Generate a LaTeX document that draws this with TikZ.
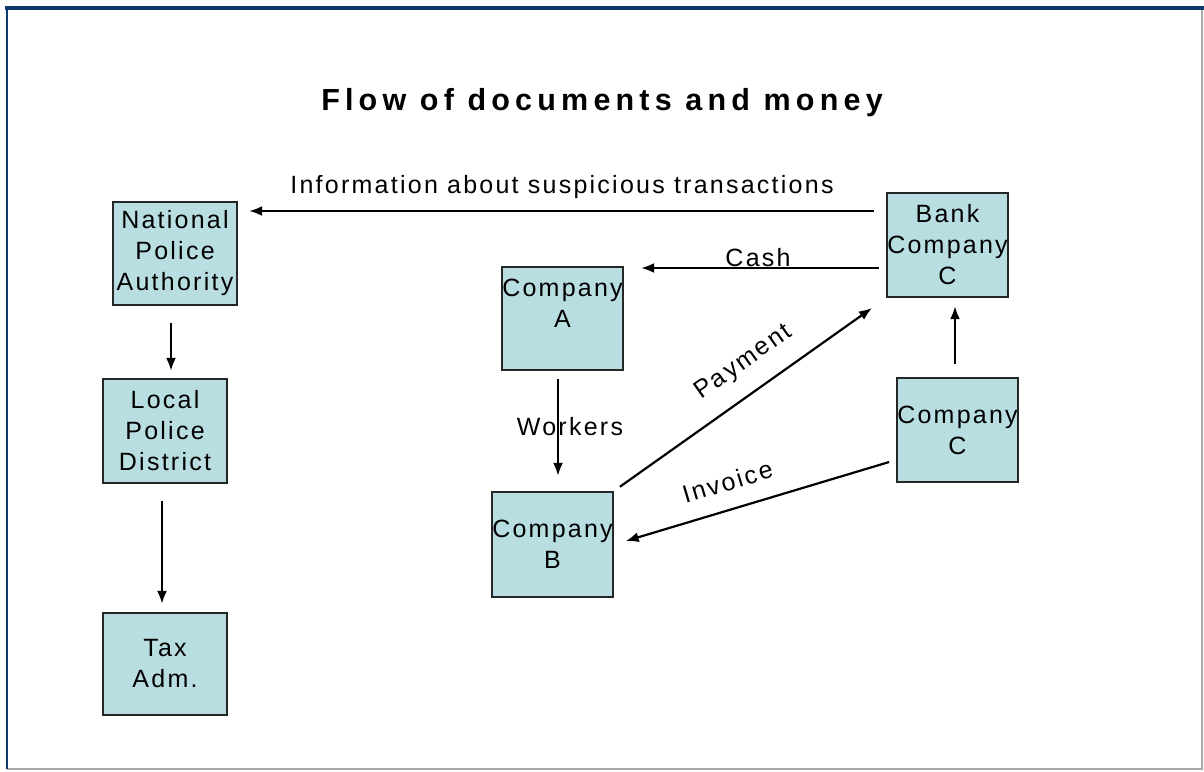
\documentclass[tikz,border=0pt]{standalone}
\usepackage{fontspec}
\setmainfont{Liberation Sans}[LetterSpace=9]
\newfontfamily\titlefont{Liberation Sans}[LetterSpace=17]
\usetikzlibrary{arrows.meta}
\definecolor{boxfill}{RGB}{185,222,226}
\definecolor{frameblue}{RGB}{12,58,108}
\definecolor{framegrey}{RGB}{170,170,170}
\begin{document}
\begin{tikzpicture}[x=1pt,y=-1pt,
  box/.style={draw=black!85,line width=2.4pt,fill=boxfill,minimum width=121pt,minimum height=104pt,
    inner sep=0pt,align=center,font=\fontsize{25}{31}\selectfont},
  flow/.style={-{Latex[length=13pt,width=10pt]},line width=2.2pt},
  lbl/.style={font=\fontsize{25}{30}\selectfont}]
\useasboundingbox (0,0) rectangle (1204,771);
\draw[framegrey,line width=1.2pt] (1202,8) -- (1202,769) -- (7,769);
\draw[frameblue,line width=1.8pt] (7,769) -- (7,8);
\draw[frameblue,line width=3.5pt] (5,8) -- (1204,8);
\path node (title) at (602,103) {\titlefont\bfseries\fontsize{30.5}{34}\selectfont Flow of documents and money}
node[box,minimum width=124pt,minimum height=103pt] (npa) at (175,253.5) {National\\Police\\Authority}
node[box,minimum width=124pt] (lpd) at (165,431) {Local\\Police\\District}
node[box,minimum width=124pt,minimum height=102pt] (tax) at (165,664) {Tax\\Adm.}
node[box,minimum height=103pt] (ca) at (562.5,318.5) {Company\\A\\\mbox{}}
node[box] (bank) at (947.5,245) {Bank\\Company\\C}
node[box,minimum height=105pt] (cb) at (552.5,544.5) {Company\\B}
node[box] (cc) at (957.5,430) {Company\\C}
;
\draw[flow,shorten <=12pt,shorten >=11pt] ([yshift=34pt]bank.west) -- ([yshift=34pt]bank.west -| npa.east)
  node[lbl,midway,above=8pt] (info) {Information about suspicious transactions};
\draw[flow,shorten <=7pt,shorten >=17pt] ([yshift=-23pt]bank.west) -- ([yshift=-23pt]bank.west -| ca.east)
  node[lbl,midway,above,inner sep=0pt,xshift=3pt] (cash) {Cash};
\draw[flow,shorten <=8pt,shorten >=15pt] ([xshift=-4.5pt]ca.south) -- ([xshift=-4.5pt]ca.south |- cb.north)
  node[lbl,midway,xshift=12pt,yshift=4pt] (workers) {Workers};
\draw[flow,shorten <=7pt,shorten >=17pt] (cb.north east) -- (bank.south west)
  node[lbl,pos=0.54,sloped,above=14pt] (payment) {Payment};
\draw[flow,shorten <=7pt,shorten >=12pt] ([yshift=-30pt]cc.west) -- (cb.east)
  node[lbl,pos=0.57,sloped,above=14pt] (invoice) {Invoice};
\draw[flow,shorten <=13pt,shorten >=8pt] ([xshift=-2.5pt]cc.north) -- ([xshift=-2.5pt]cc.north |- bank.south);
\draw[flow,shorten <=17pt,shorten >=7pt] ([xshift=-4pt]npa.south) -- ([xshift=-4pt]npa.south |- lpd.north);
\draw[flow,shorten <=17pt,shorten >=8pt] ([xshift=-3pt]lpd.south) -- ([xshift=-3pt]lpd.south |- tax.north);
\end{tikzpicture}
\end{document}
